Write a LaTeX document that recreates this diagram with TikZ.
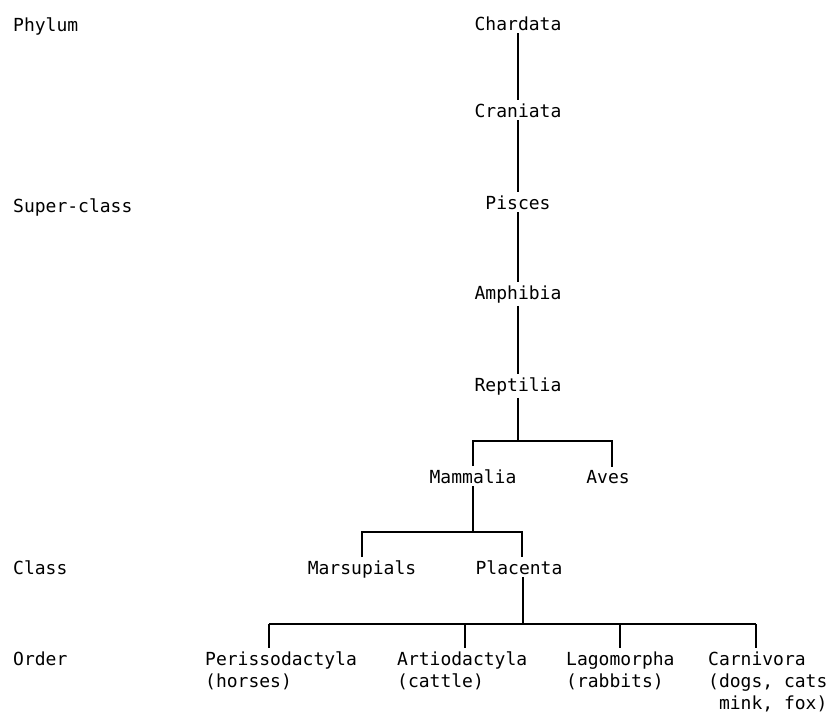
\documentclass[tikz,border=0pt]{standalone}
\usepackage{fontspec}
\newfontfamily\printfont{DejaVu Sans Mono}
\begin{document}
\begin{tikzpicture}[x=1pt,y=-1pt,
  txt/.style={font=\printfont\fontsize{18}{22}\selectfont, inner sep=3pt, anchor=base},
  lvl/.style={font=\printfont\fontsize{18}{22}\selectfont, inner sep=0pt, anchor=base west},
  ord/.style={font=\printfont\fontsize{18}{22}\selectfont, inner sep=0pt, anchor=north west, align=left},
  ln/.style={line width=1.6pt, line cap=butt}]
\useasboundingbox (0,0) rectangle (837,712);
% level labels
\node[lvl] (phylum) at (13,31) {Phylum};
\node[lvl] (super) at (13,212) {Super-class};
\node[lvl] (class) at (13,574) {Class};
\node[lvl] (order) at (13,665) {Order};
% trunk
\node[txt] (chard) at (518,30) {Chardata};
\node[txt] (cran) at (518,117) {Craniata};
\node[txt] (pisc) at (518,209) {Pisces};
\node[txt] (amph) at (518,299) {Amphibia};
\node[txt] (rept) at (518,391) {Reptilia};
\node[txt] (mam) at (473,483) {Mammalia};
\node[txt] (aves) at (608,483) {Aves};
\node[txt] (mars) at (362,574) {Marsupials};
\node[txt] (plac) at (519,574) {Placenta};
% orders
\node[ord] (peri) at (205,651.5) {Perissodactyla\\(horses)};
\node[ord] (artio) at (397,651.5) {Artiodactyla\\(cattle)};
\node[ord] (lago) at (566,651.5) {Lagomorpha\\(rabbits)};
\node[ord] (carn) at (708,651.5) {Carnivora\\(dogs, cats\\\phantom{(}mink, fox)};
% junction coordinates
\coordinate (j1) at (519,441);
\coordinate (j2) at (473,532);
\coordinate (j3) at (523,624);
\coordinate (t1) at (269,624);
\coordinate (t2) at (465,624);
\coordinate (t3) at (620,624);
\coordinate (t4) at (756,624);
% connectors
\draw[ln] (chard) -- (cran);
\draw[ln] (cran) -- (pisc);
\draw[ln] (pisc) -- (amph);
\draw[ln] (amph) -- (rept);
\draw[ln] (rept.south) -- (rept.south |- j1);
\draw[ln] (mam.north) |- (j1) -| ([xshift=4pt]aves.north);
\draw[ln] (mam.south) -- (j2);
\draw[ln] (mars.north) |- (j2) -| ([xshift=3pt]plac.north);
\draw[ln] ([xshift=4pt]plac.south) -- (j3);
\draw[ln] (t1) -- (t4);
\draw[ln, shorten >=4pt] (t1) -- (t1 |- peri.north);
\draw[ln, shorten >=4pt] (t2) -- (t2 |- artio.north);
\draw[ln, shorten >=4pt] (t3) -- (t3 |- lago.north);
\draw[ln, shorten >=4pt] (t4) -- (t4 |- carn.north);
\end{tikzpicture}
\end{document}
